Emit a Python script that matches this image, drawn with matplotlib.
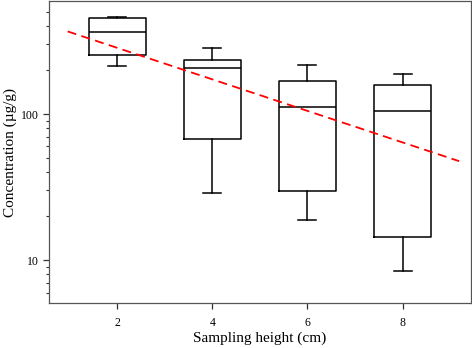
import numpy as np
import matplotlib.pyplot as plt
from matplotlib.ticker import LogLocator, FixedLocator, NullFormatter

plt.rcParams['font.family'] = ['Liberation Serif', 'DejaVu Serif']

# Sampling heights (cm) and box statistics (ug/g)
heights = [2, 4, 6, 8]
whisker_low = [212, 28.8, 18.7, 8.45]
q1 = [252, 67.4, 29.9, 14.4]
median = [364, 207, 112, 105]
q3 = [452, 234, 168, 158]
whisker_high = [459, 284, 218, 188]

# Dashed red trend line end points
trend_x = [0.96, 9.19]
trend_y = [368, 47.6]

stats = []
for i in range(len(heights)):
    stats.append({
        'whislo': whisker_low[i],
        'q1': q1[i],
        'med': median[i],
        'q3': q3[i],
        'whishi': whisker_high[i],
        'fliers': [],
    })

fig = plt.figure(figsize=(4.72, 3.48), dpi=100)
ax = fig.add_axes([0.104, 0.129, 0.893, 0.868])

line_kw = dict(color='black', linewidth=1.1)
ax.bxp(stats, positions=heights, widths=1.2, showfliers=False,
       boxprops=line_kw, whiskerprops=line_kw, capprops=line_kw,
       medianprops=line_kw, capwidths=0.38, manage_ticks=False)

ax.plot(trend_x, trend_y, color='#ff0000', linewidth=1.3,
        linestyle=(0, (5, 3)), zorder=5)

ax.set_yscale('log')
ax.set_ylim(5.08, 594)
ax.set_xlim(0.57, 9.43)

ax.set_xticks(heights)
ax.set_xticklabels([str(h) for h in heights])
ax.yaxis.set_major_locator(FixedLocator([10, 100]))
ax.set_yticklabels(['10', '100'])
ax.yaxis.set_minor_locator(LogLocator(base=10, subs=np.arange(2, 10)))
ax.yaxis.set_minor_formatter(NullFormatter())

ax.tick_params(axis='both', which='major', direction='out', length=4,
               width=0.9, labelsize=8.5, colors='#333333', labelcolor='black')
ax.tick_params(axis='y', which='minor', direction='out', length=2.5,
               width=0.8, colors='#333333')
ax.tick_params(axis='x', pad=6)

for s in ax.spines.values():
    s.set_color('#555555')
    s.set_linewidth(0.9)

ax.set_xlabel('Sampling height (cm)', fontsize=11, labelpad=2)
ax.set_ylabel('Concentration (\u00b5g/g)', fontsize=11, labelpad=3)

fig.savefig('out.png', dpi=100)
